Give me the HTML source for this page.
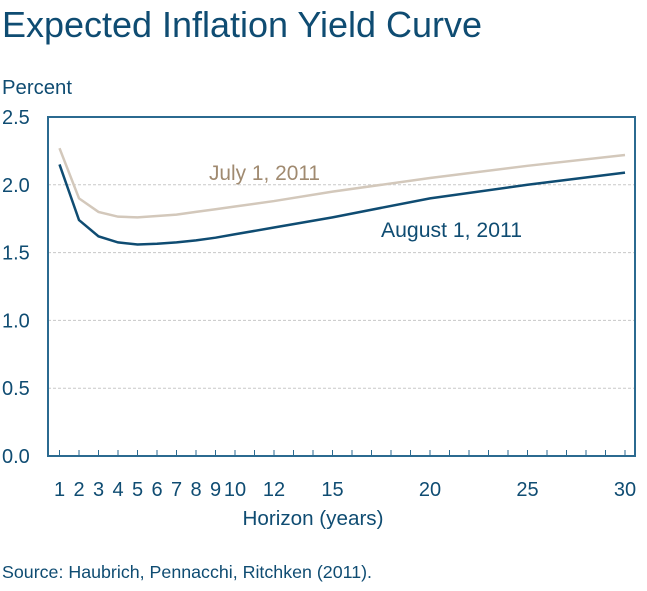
<!DOCTYPE html>
<html><head><meta charset="utf-8">
<style>
body{margin:0;background:#fff;font-family:"Liberation Sans",sans-serif;}
svg text{font-family:"Liberation Sans",sans-serif;}
</style></head>
<body>
<svg id="chart" width="647" height="586" xmlns="http://www.w3.org/2000/svg">
<text x="2" y="37" font-size="36" fill="#0f4c72" textLength="480" lengthAdjust="spacingAndGlyphs">Expected Inflation Yield Curve</text>
<text x="2" y="94" font-size="20" fill="#0f4c72" textLength="70" lengthAdjust="spacingAndGlyphs">Percent</text>
<g id="grid"></g>
<g id="yticks"></g>
<g id="xticks"></g>
<rect x="48" y="117" width="587" height="339" fill="none" stroke="#2b6a90" stroke-width="2"/>
<polyline id="july" fill="none" stroke="#d3c8bb" stroke-width="2.5"/>
<polyline id="aug" fill="none" stroke="#0f4c72" stroke-width="2.5"/>
<text x="209" y="180" font-size="21" fill="#a08a70" textLength="111" lengthAdjust="spacingAndGlyphs">July 1, 2011</text>
<text x="381" y="237" font-size="21" fill="#0f4c72" textLength="141" lengthAdjust="spacingAndGlyphs">August 1, 2011</text>
<text x="313" y="525" font-size="20.5" fill="#0f4c72" text-anchor="middle" textLength="141" lengthAdjust="spacingAndGlyphs">Horizon (years)</text>
<text x="2" y="578" font-size="17.5" fill="#0f4c72" textLength="370" lengthAdjust="spacingAndGlyphs">Source: Haubrich, Pennacchi, Ritchken (2011).</text>
</svg>
<script>
const years=[1,2,3,4,5,6,7,8,9,10,12,15,20,25,30];
const julyVals=[2.27,1.90,1.80,1.765,1.76,1.77,1.78,1.80,1.82,1.84,1.88,1.95,2.05,2.14,2.22];
const augVals=[2.15,1.74,1.62,1.575,1.56,1.565,1.575,1.59,1.61,1.635,1.685,1.76,1.90,2.00,2.09];
const yTicks=[0,0.5,1.0,1.5,2.0,2.5];
const xTickLabels=[1,2,3,4,5,6,7,8,9,10,12,15,20,25,30];
const NS="http://www.w3.org/2000/svg";
const X0=48,X1=635,Y0=117,Y1=456;
function xs(v){return 59.5+(v-1)*19.5;}
function ys(v){return Y1-(v/2.5)*(Y1-Y0);}
function mk(t,a,parent){const e=document.createElementNS(NS,t);for(const k in a)e.setAttribute(k,a[k]);document.getElementById(parent).appendChild(e);return e;}
yTicks.forEach(v=>{
  const y=ys(v);
  if(v>0&&v<2.5){const g=mk('line',{x1:X0,x2:X1,y1:y,y2:y,stroke:'#c8c8c8','stroke-dasharray':'3,2','stroke-width':1},'grid');
  
  }
  const t=mk('text',{x:2,y:y+7,'font-size':20,fill:'#0f4c72'},'yticks');
  
  
  t.textContent=v.toFixed(1);
});
for(let yr=1;yr<=30;yr++){
  const x=xs(yr);
  const l=mk('line',{x1:x,x2:x,y1:Y1,y2:Y1-6,stroke:'#2b6a90','stroke-width':1},'xticks');
  
  
}
xTickLabels.forEach(v=>{
  const t=mk('text',{x:xs(v),y:496,'font-size':20,fill:'#0f4c72','text-anchor':'middle'},'xticks');
  
  
  t.textContent=v;
});
document.getElementById('july').setAttribute('points',years.map((y,i)=>xs(y)+','+ys(julyVals[i])).join(' '));
document.getElementById('aug').setAttribute('points',years.map((y,i)=>xs(y)+','+ys(augVals[i])).join(' '));
</script>
</body></html>
